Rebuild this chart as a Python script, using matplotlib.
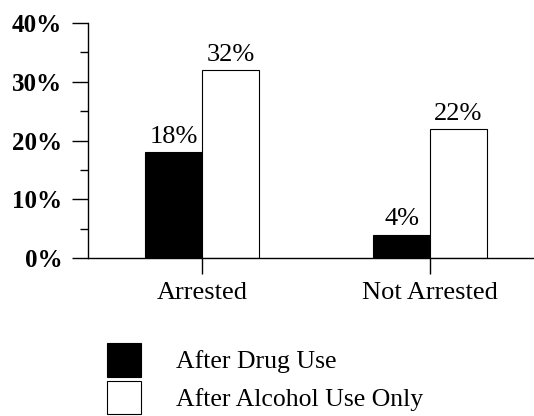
import numpy as np
import matplotlib
matplotlib.use('Agg')
import matplotlib.pyplot as plt
from matplotlib.ticker import MultipleLocator, FuncFormatter

plt.rcParams['font.family'] = ['Liberation Serif', 'DejaVu Serif']

# 数据
categories = ['Arrested', 'Not Arrested']
drug_use = [18, 4]
alcohol_only = [32, 22]
series_labels = ['After Drug Use', 'After Alcohol Use Only']

fig = plt.figure(figsize=(5.34, 4.16), dpi=100)
ax = fig.add_axes([88 / 534, 158 / 416, 446 / 534, 235 / 416])

x = np.arange(len(categories))
w = 0.25
b1 = ax.bar(x - w / 2, drug_use, w, color='black', edgecolor='black', linewidth=0.8,
            label=series_labels[0])
b2 = ax.bar(x + w / 2, alcohol_only, w, color='white', edgecolor='black', linewidth=0.8,
            label=series_labels[1])

# 数值标签
for bars, vals in ((b1, drug_use), (b2, alcohol_only)):
    for rect, v in zip(bars, vals):
        ax.annotate(f'{v}%', (rect.get_x() + rect.get_width() / 2, v),
                    xytext=(0, 3), textcoords='offset points',
                    ha='center', va='bottom', fontsize=19)

ax.set_xlim(-0.5, 1.456)
ax.set_ylim(0, 40)

ax.spines['top'].set_visible(False)
ax.spines['right'].set_visible(False)
for s in ('left', 'bottom'):
    ax.spines[s].set_linewidth(1.0)

ax.yaxis.set_major_locator(MultipleLocator(10))
ax.yaxis.set_minor_locator(MultipleLocator(5))
ax.yaxis.set_major_formatter(FuncFormatter(lambda v, p: f'{v:.0f}%'))
ax.tick_params(axis='y', which='major', length=11.5, width=1.0, pad=7, labelsize=18)
ax.tick_params(axis='y', which='minor', length=5.8, width=1.0)
for lab in ax.get_yticklabels():
    lab.set_fontweight('bold')

ax.set_xticks(x)
ax.set_xticklabels(categories, fontsize=19)
ax.tick_params(axis='x', length=11.5, width=1.0, pad=6)

# 图例
fig.legend(handles=[b1, b2], loc='upper left',
           bbox_to_anchor=(107 / 534, 1 - 343 / 416), bbox_transform=fig.transFigure,
           frameon=False, fontsize=18.5, handlelength=1.335, handleheight=1.64,
           handletextpad=1.34, labelspacing=0.16, borderpad=0, borderaxespad=0)

fig.savefig('out.png', dpi=100)
